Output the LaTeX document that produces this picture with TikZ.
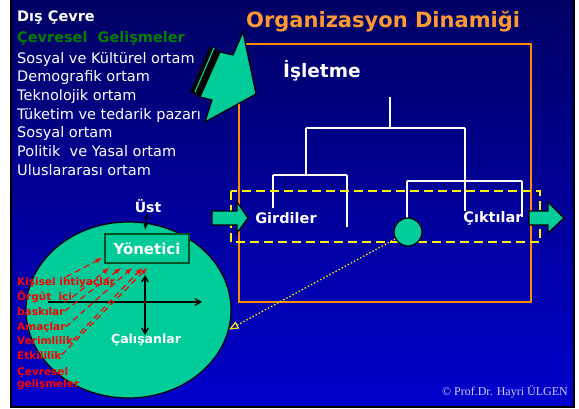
\documentclass[tikz,border=0pt]{standalone}
\usepackage{fontspec}
\setmainfont{DejaVu Sans}
\newfontfamily\crfont{Liberation Serif}
\usetikzlibrary{arrows, shapes}

\definecolor{slidetop}{RGB}{0,0,100}
\definecolor{slidebot}{RGB}{0,0,205}
\definecolor{mint}{RGB}{0,204,153}
\definecolor{leafgreen}{RGB}{0,128,0}
\definecolor{amber}{RGB}{255,140,0}
\definecolor{peach}{RGB}{255,153,51}
\definecolor{boxgreen}{RGB}{0,80,40}
\definecolor{lavender}{RGB}{205,205,255}

\begin{document}
\begin{tikzpicture}[x=1pt, y=-1pt,
  txt/.style={anchor=base west, inner sep=0, text=white, font=\fontsize{14.5}{17}\selectfont},
  hd/.style={txt, font=\fontsize{14.5}{17}\selectfont\bfseries},
  lbl/.style={inner sep=0, text=white, font=\fontsize{14.5}{17}\selectfont\bfseries},
  redlbl/.style={anchor=base west, inner sep=0, text=red, font=\fontsize{10.5}{12}\selectfont\bfseries},
  redarr/.style={red, line width=1.2pt, dash pattern=on 6pt off 4pt, -latex},
  axis/.style={black, line width=1.5pt},
  blockarrow/.style={fill=mint, draw=black, line width=1.2pt, line join=miter},
  orgline/.style={white, line width=1.5pt}
]
\useasboundingbox (0,0) rectangle (579,409);
\fill[white] (0,0) rectangle (579,409);
\shade[top color=slidetop, bottom color=slidebot] (11,0) rectangle (574,407);
\draw[black, line width=1.2pt] (11,0) -- (11,407) -- (574,407) -- (574,0);

\node[hd] (dis) at (17,21.5) {Dış Çevre};
\node[hd, text=leafgreen] (gelisme) at (17,43) {Çevresel\ \ Gelişmeler};
\node[txt] (sosyal) at (17,63.5) {Sosyal ve Kültürel ortam};
\node[txt] (demo) at (17,82) {Demografik ortam};
\node[txt] (tekno) at (17,100.5) {Teknolojik ortam};
\node[txt] (tuketim) at (17,119.5) {Tüketim ve tedarik pazarı};
\node[txt] (sosyal2) at (17,138) {Sosyal ortam};
\node[txt] (politik) at (17,157) {Politik\ \ ve Yasal ortam};
\node[txt] (intl) at (17,176) {Uluslararası ortam};

\node[anchor=base west, inner sep=0, text=peach, font=\fontsize{21}{25}\selectfont\bfseries] (title) at (246,28) {Organizasyon Dinamiği};
\node[draw=amber, line width=2pt, minimum width=292, minimum height=258, inner sep=0] (firm) at (385,173) {};
\node[anchor=base west, inner sep=0, text=white, font=\fontsize{18.5}{22}\selectfont\bfseries] (isletme) at (283,78) {İşletme};

\fill[black] (190,92) -- (210,46) -- (220,52) -- (200,97) -- cycle;
\draw[mint, line width=1.2pt] (195,92) -- (214,48);
\draw[blockarrow] (220,52) -- (233,55) -- (243,32) -- (256,94) -- (205,122) -- (212,100) -- (200,97) -- cycle;

\draw[orgline] (390,97) -- (390,128) (306,128) -- (465,128) (306,128) -- (306,175)
  (273,175) -- (347,175) (273,175) -- (273,208) (347,175) -- (347,227)
  (465,128) -- (465,211) (407,181) -- (522,181) (407,181) -- (407,218) (522,181) -- (522,217);

\draw[yellow, line width=1.5pt, dash pattern=on 9pt off 5pt] (231,191) rectangle (540,242);
\node[circle, draw=black, fill=mint, line width=1.2pt, minimum size=28, inner sep=0] (proc) at (408,232) {};
\draw[blockarrow] (212,211) -- (237,211) -- (237,202) -- (248,218) -- (237,233) -- (237,225) -- (212,225) -- cycle;
\draw[blockarrow] (529,211) -- (548,211) -- (548,202) -- (564,218) -- (548,233) -- (548,225) -- (529,225) -- cycle;
\node[lbl] (girdi) at (286,218) {Girdiler};
\node[lbl] (cikti) at (493,218) {Çıktılar};

\node[ellipse, draw=black, fill=mint, line width=1.2pt, minimum width=205, minimum height=176, inner sep=0] (staff) at (128.5,310) {};
\node[lbl, font=\fontsize{14}{17}\selectfont\bfseries] (ust) at (148,206) {Üst};
\node[draw=boxgreen, fill=mint, line width=2pt, minimum width=84, minimum height=29, inner sep=0, text=white, font=\fontsize{15}{18}\selectfont\bfseries] (mgr) at (147,248.5) {Yönetici};
\node[lbl, font=\fontsize{12.5}{15}\selectfont\bfseries] (emp) at (146,340) {Çalışanlar};
\draw[black, line width=1pt, latex-latex] (ust) -- (145,230);

\coordinate (vtop) at (145,275);
\coordinate (vbot) at (145,335);
\coordinate (hleft) at (48,302);
\coordinate (hright) at (202,302);
\draw[axis, angle 60-angle 60] (vtop) -- (vbot);
\draw[axis, -angle 60] (hleft) -- (hright);

\node[redlbl] (need) at (17,285) {Kişisel ihtiyaçlar};
\node[redlbl] (orgut) at (17,301) {Örgüt\ \ içi};
\node[redlbl] (baski) at (17,315) {baskılar};
\node[redlbl] (amac) at (17,330) {Amaçlar};
\node[redlbl] (verim) at (17,344) {Verimlilik};
\node[redlbl] (etki) at (17,359) {Etkililik};
\node[redlbl] (cevre) at (17,375) {Çevresel};
\node[redlbl] (gelis) at (17,387) {gelişmeler};

\draw[redarr] (need.north) -- ([xshift=-2pt,yshift=6pt]mgr.south west);
\draw[redarr] (orgut.east) -- ([xshift=5pt,yshift=-4pt]mgr.south west);
\draw[redarr] (baski.east) -- ([xshift=17pt,yshift=-4pt]mgr.south west);
\draw[redarr] (amac.east) -- ([xshift=28pt,yshift=-4pt]mgr.south west);
\draw[redarr] (verim.east) -- ([xshift=38pt,yshift=-4pt]mgr.south west);
\draw[redarr] (etki.east) -- ([xshift=43pt,yshift=-4pt]mgr.south west);

\draw[yellow, line width=1.2pt, dash pattern=on 1.5pt off 2pt, -open triangle 45] (proc) -- (staff.-11);

\node[anchor=base east, inner sep=0, text=lavender, font=\crfont\fontsize{12}{14}\selectfont] (copy) at (568,395) {© Prof.Dr. Hayri ÜLGEN};
\end{tikzpicture}
\end{document}
